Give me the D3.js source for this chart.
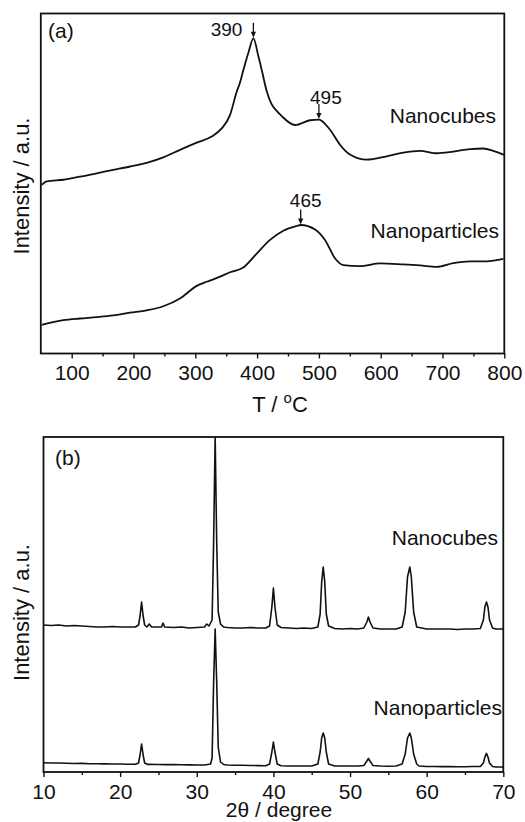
<!DOCTYPE html>
<html>
<head>
<meta charset="utf-8">
<script src="https://cdn.jsdelivr.net/npm/d3@7"></script>
<style>
  html, body { margin: 0; padding: 0; background: #fff; }
  svg { display: block; font-family: "Liberation Sans", Arial, sans-serif; }
</style>
</head>
<body>
<svg id="chart" width="525" height="822"></svg>
<script>
// ---------- Panel (a): TPR profiles ----------
const tprTicks = [100, 200, 300, 400, 500, 600, 700, 800];
const tprMinorTicks = [150, 250, 350, 450, 550, 650, 750];

const cubesT = [51.5, 59.5, 86.4, 113.4, 140.5, 167.3, 194.3, 221.4, 248.2, 275.2, 302.3, 326.5, 342.7, 356.1, 367, 372, 378, 386, 394, 402, 408, 415, 423, 431, 440, 461.3, 485.6, 500, 518, 534.1, 550.3, 577.3, 609.7, 636.6, 663.6, 690.6, 717.5, 744.5, 766, 782.2, 800];
const cubesI = [49.6, 50.6, 51.1, 52.0, 53.0, 54.0, 55.0, 56.1, 57.7, 59.9, 62.0, 63.8, 66.2, 70.1, 77.0, 79.5, 83.5, 88.5, 92.7, 87.5, 83.0, 77.5, 73.5, 71.5, 69.8, 67.2, 68.6, 68.8, 65.8, 61.4, 58.5, 57.0, 58.0, 59.1, 59.6, 58.9, 59.4, 60.1, 60.3, 59.6, 58.4];

const particlesT = [51.5, 86.4, 113.4, 140.5, 167.3, 194.3, 221.4, 248.2, 275.2, 302.3, 318.4, 329.1, 340, 356.1, 377.7, 399.4, 420.9, 442.4, 464.1, 470.6, 493.7, 509.9, 526, 539.5, 566.5, 598.9, 636.6, 663.6, 690.6, 717.5, 744.5, 771.5, 798.4];
const particlesI = [8.4, 9.8, 10.3, 10.7, 11.2, 12.0, 12.7, 13.9, 16.2, 19.9, 21.1, 21.8, 22.6, 23.9, 25.3, 29.4, 33.4, 36.1, 37.5, 37.8, 36.5, 33.4, 28.0, 26.0, 25.7, 26.5, 26.2, 25.9, 25.5, 26.6, 27.1, 27.1, 27.8];

const peakLabels = ["390", "495", "465"];
const peakArrowT = [394, 500, 470.5];
const peakArrowI = [92.7, 68.8, 37.8];

// ---------- Panel (b): XRD patterns ----------
const xrdTicks = [10, 20, 30, 40, 50, 60, 70];
const xrdMinorTicks = [15, 25, 35, 45, 55, 65];

const cubesXrd = [
  [10.0,147],[11,146.5],[12,147],[13,146],[14,146.5],[15,146],[16,145.5],[17,145],[18,145],[19,145.5],[20,145],[21,145],[22,145],
  [22.4,147],[22.6,156],[22.8,170],[23.0,156],[23.2,147],[23.5,145],[23.8,148],[24.1,145],[25,145],[25.4,145],[25.6,149],[25.8,145],
  [27,144.5],[28,145],[29,144],[30,144.5],[31,145],[31.3,148],[31.6,146],[32.0,152],[32.2,230],[32.4,336],[32.6,230],[32.8,160],
  [33.1,148],[33.5,145],[34,144.5],[35,144],[36,144],[37,144.5],[38,144],[39,144],[39.5,146],[39.8,165],[40.0,184],[40.2,165],
  [40.5,147],[41,144.5],[42,144],[43,143.5],[44,144],[45,143.5],[45.8,145],[46.1,158],[46.3,190],[46.5,205],[46.7,190],[46.9,158],
  [47.2,146],[48,143.5],[49,143],[50,143.5],[51,143],[51.8,144],[52.2,150],[52.4,155],[52.6,150],[53,144],[54,143],[55,143],[56,143],
  [56.8,145],[57.2,160],[57.5,195],[57.8,205],[58.0,195],[58.3,160],[58.7,145],[60,143],[61,143],[62,143],[63,143],[64,142.5],
  [65,143],[66,143],[67,143.5],[67.4,152],[67.6,165],[67.8,170],[68.0,165],[68.2,152],[68.6,144],[69,143],[70,143]
];
const particlesXrd = [
  [10,9.2],[11,9],[12,9],[13,8.8],[14,8.5],[15,8.6],[16,8.3],[17,8.2],[18,8.1],[19,8],[20,8],[21,7.8],[22,7.8],
  [22.4,9],[22.6,17],[22.8,28],[23.0,17],[23.2,9],[23.6,7.6],[25,7.5],[26,7.4],[27,7.4],[28,7.2],[29,7.1],[30,7],[31,7],
  [31.8,8],[32.0,14],[32.2,90],[32.4,143],[32.6,90],[32.8,25],[33.1,10],[33.5,7.5],[34,7],[35,6.8],[36,6.7],[37,6.5],[38,6.4],[39,6.3],
  [39.5,8],[39.8,20],[40.0,30],[40.2,20],[40.5,8],[41,6.2],[42,6],[43,6],[44,6],[45,6],[45.8,8],[46.1,20],[46.3,34],[46.5,39],
  [46.7,34],[46.9,20],[47.2,8],[48,6],[49,6],[50,6],[51,6],[51.8,6.5],[52.2,11],[52.4,13.5],[52.6,11],[53,6.5],[54,6],[55,5.8],[56,6],
  [56.8,8],[57.2,18],[57.5,34],[57.8,39],[58.0,34],[58.3,18],[58.7,8],[59,6],[60,5.5],[61,5.5],[62,5.4],[63,5.5],[64,5.3],[65,5.2],
  [66,5.5],[67,5.5],[67.4,9],[67.6,15],[67.8,18.6],[68.0,15],[68.2,9],[68.6,5.5],[69,5],[70,5]
];

// ---------- drawing ----------
const svg = d3.select("#chart");
const FONT = 21;
const TICKFONT = 21;
const ink = "#111";

function drawFrame(g, x, y) {
  const [x0, x1] = x.range(), [y0, y1] = y.range();
  g.append("rect")
    .attr("x", x0).attr("y", y1)
    .attr("width", x1 - x0).attr("height", y0 - y1)
    .attr("fill", "none").attr("stroke", ink).attr("stroke-width", 1.8);
}

function drawAxis(g, x, y, majors, minors) {
  const yb = y.range()[0];
  const ax = g.append("g").attr("transform", `translate(0,${yb})`)
    .call(d3.axisBottom(x).tickValues(majors).tickSize(5).tickPadding(7).tickSizeOuter(0));
  ax.select(".domain").remove();
  ax.selectAll("line").attr("stroke", ink).attr("stroke-width", 1.4);
  ax.selectAll("text").attr("font-size", TICKFONT).attr("fill", ink)
    .attr("font-family", "Liberation Sans, Arial, sans-serif");
  const mn = g.append("g").attr("transform", `translate(0,${yb})`)
    .call(d3.axisBottom(x).tickValues(minors).tickSize(3).tickFormat(""));
  mn.select(".domain").remove();
  mn.selectAll("line").attr("stroke", ink).attr("stroke-width", 1.4);
}

// Panel (a)
const xa = d3.scaleLinear().domain([50, 800]).range([40.8, 504.3]);
const ya = d3.scaleLinear().domain([0, 100]).range([353.5, 13.5]);
const ga = svg.append("g");

const lineA = d3.line().x(d => xa(d[0])).y(d => ya(d[1])).curve(d3.curveMonotoneX);
ga.append("path").datum(d3.zip(cubesT, cubesI)).attr("d", lineA)
  .attr("fill", "none").attr("stroke", ink).attr("stroke-width", 1.8).attr("stroke-linejoin", "round");
ga.append("path").datum(d3.zip(particlesT, particlesI)).attr("d", lineA)
  .attr("fill", "none").attr("stroke", ink).attr("stroke-width", 1.8).attr("stroke-linejoin", "round");

drawFrame(ga, xa, ya);
drawAxis(ga, xa, ya, tprTicks, tprMinorTicks);

// arrows + peak labels
const labelDx = [-11, 7, 5];
const labelDy = [-2, -15, -17];
const labelAnchor = ["end", "middle", "middle"];
peakLabels.forEach((lab, i) => {
  const px = xa(peakArrowT[i]);
  const tip = ya(peakArrowI[i]) - 0.5;
  ga.append("line").attr("x1", px).attr("x2", px).attr("y1", tip - 15).attr("y2", tip - 4)
    .attr("stroke", ink).attr("stroke-width", 1.3);
  ga.append("path").attr("d", `M${px - 2.6},${tip - 6}L${px + 2.6},${tip - 6}L${px},${tip}Z`).attr("fill", ink);
  ga.append("text").attr("x", px + labelDx[i]).attr("y", tip + labelDy[i])
    .attr("text-anchor", labelAnchor[i]).attr("font-size", 19).attr("fill", ink).text(lab);
});

ga.append("text").attr("x", 48).attr("y", 37.5).attr("font-size", FONT).attr("fill", ink).text("(a)");
ga.append("text").attr("x", 496).attr("y", 122.7).attr("text-anchor", "end").attr("font-size", FONT).attr("fill", ink).text("Nanocubes");
ga.append("text").attr("x", 499).attr("y", 238.3).attr("text-anchor", "end").attr("font-size", FONT).attr("fill", ink).text("Nanoparticles");
ga.append("text").attr("transform", "translate(29,186) rotate(-90)").attr("text-anchor", "middle")
  .attr("font-size", 22).attr("fill", ink).text("Intensity / a.u.");
const tl = ga.append("text").attr("x", 280).attr("y", 411.7).attr("text-anchor", "middle")
  .attr("font-size", 22).attr("fill", ink);
tl.append("tspan").text("T / ");
tl.append("tspan").attr("font-size", 15).attr("dy", -9).text("o");
tl.append("tspan").attr("dy", 9).text("C");

// Panel (b)
const xb = d3.scaleLinear().domain([10, 70]).range([43.5, 503.3]);
const yb = d3.scaleLinear().domain([0, 335]).range([772, 437]);
const gb = svg.append("g");
gb.append("clipPath").attr("id", "clipb").append("rect")
  .attr("x", 43.5).attr("y", 437).attr("width", 503.3 - 43.5).attr("height", 772 - 437);
const lineB = d3.line().x(d => xb(d[0])).y(d => yb(d[1]));
[cubesXrd, particlesXrd].forEach(s => {
  gb.append("path").datum(s).attr("d", lineB).attr("clip-path", "url(#clipb)")
    .attr("fill", "none").attr("stroke", ink).attr("stroke-width", 1.6).attr("stroke-linejoin", "round");
});
drawFrame(gb, xb, yb);
drawAxis(gb, xb, yb, xrdTicks, xrdMinorTicks);

gb.append("text").attr("x", 55).attr("y", 464.5).attr("font-size", FONT).attr("fill", ink).text("(b)");
gb.append("text").attr("x", 498).attr("y", 545).attr("text-anchor", "end").attr("font-size", FONT).attr("fill", ink).text("Nanocubes");
gb.append("text").attr("x", 502).attr("y", 715).attr("text-anchor", "end").attr("font-size", FONT).attr("fill", ink).text("Nanoparticles");
gb.append("text").attr("transform", "translate(29,612.5) rotate(-90)").attr("text-anchor", "middle")
  .attr("font-size", 22).attr("fill", ink).text("Intensity / a.u.");
gb.append("text").attr("x", 279).attr("y", 817).attr("text-anchor", "middle")
  .attr("font-size", 21).attr("fill", ink).text("2θ / degree");
</script>
</body>
</html>
